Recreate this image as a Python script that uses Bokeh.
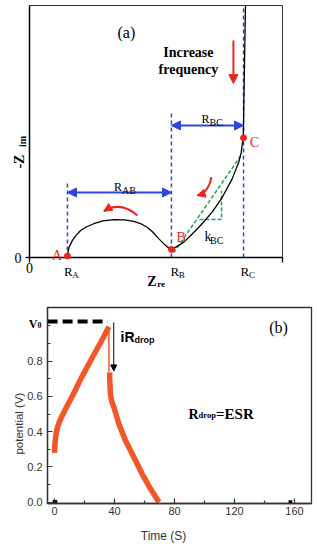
import math
from bokeh.plotting import figure
from bokeh.models import Arrow, NormalHead, FixedTicker, Range1d, PrintfTickFormatter
from bokeh.core.properties import value
from bokeh.embed import file_html
from bokeh.resources import INLINE

# ---------------- Panel (a): Nyquist schematic ----------------
R_A, R_B, R_C = 1.50, 5.61, 8.46
arc_re = [1.49, 1.56, 1.69, 1.84, 2.02, 2.26, 2.54, 2.90, 3.33, 3.75, 4.12, 4.42, 4.65, 4.86, 5.05, 5.25, 5.45, 5.61]
arc_im = [0.06, 0.40, 0.67, 0.88, 1.07, 1.22, 1.34, 1.45, 1.50, 1.49, 1.43, 1.33, 1.20, 1.02, 0.81, 0.60, 0.42, 0.32]
tail_re = [5.61, 5.80, 6.10, 6.42, 6.76, 7.22, 7.62, 8.01, 8.27, 8.37, 8.41, 8.45, 8.54]
tail_im = [0.32, 0.42, 0.61, 0.92, 1.27, 1.80, 2.39, 3.12, 3.78, 4.18, 4.51, 4.75, 10.2]
point_re = [R_A, R_B, R_C]
point_im = [0.06, 0.32, 4.75]
guide_re = [R_A, R_B, R_C]
guide_top = [3.06, 5.75, 10.2]
slope_re = [5.70, 8.41]
slope_im = [0.19, 4.12]
tri_re = [6.72, 7.59, 7.59]
tri_im = [1.51, 1.51, 2.65]
R_AB_level = 2.58
R_BC_level = 5.24
# curved red arrows: start, control, end
curve_x0 = [4.26, 7.19]
curve_y0 = [1.67, 3.19]
curve_cx = [3.60, 7.09]
curve_cy = [2.25, 2.59]
curve_x1 = [2.94, 6.63]
curve_y1 = [1.84, 2.46]
freq_arrow_x = 8.06
freq_arrow_y = [8.61, 6.90]

# ---------------- Panel (b): charge / discharge ----------------
charge_t = [0.0, 0.2, 0.6, 1.2, 2.0, 3.0, 4.5, 6.0, 8.0, 10.5, 13.5, 17.0, 21.0, 25.5, 30.0, 33.5, 36.2]
charge_v = [0.28, 0.32, 0.36, 0.395, 0.425, 0.45, 0.48, 0.505, 0.54, 0.58, 0.63, 0.69, 0.755, 0.825, 0.895, 0.95, 0.995]
discharge_t = [36.7, 36.9, 37.3, 38.2, 39.6, 42.9, 47.3, 52.9, 58.4, 64.0, 68.9, 69.8]
discharge_v = [0.737, 0.68, 0.615, 0.57, 0.539, 0.445, 0.35, 0.255, 0.161, 0.076, 0.01, 0.0]
drop_t = [36.3, 36.3]
drop_v = [0.99, 0.74]
v0_t = [-4.6, 35.5]
v0_v = [1.025, 1.025]
ir_arrow_t = 39.5
ir_arrow_v = [1.02, 0.745]
mark_t = [[-1.3, 1.8], [156.0, 158.5]]
mark_v = [[0.004, 0.004], [0.003, 0.003]]
y_ticks = [0.0, 0.2, 0.4, 0.6, 0.8]
y_minor = [0.1, 0.3, 0.5, 0.7, 0.9, 1.0]
x_ticks = [0, 40, 80, 120, 160]
x_minor = [20, 60, 100, 140]

RED = "#e8261f"
BLUE = "#2f45dc"
GREEN = "#1fa554"
ORANGE = "#f25727"
SERIF = "Liberation Serif"
SANS = "Liberation Sans"


def txt(fig, x, y, s, size, font=SERIF, style="normal", color="black",
        align="left", baseline="alphabetic", angle=0.0, xo=0):
    fig.text(x=[x], y=[y], text=[s], text_font=value(font),
             text_font_size=value(f"{size}px"), text_font_style=value(style),
             text_color=color, text_align=value(align),
             text_baseline=value(baseline), angle=angle, x_offset=xo,
             level="overlay")


# ---------- figure (a) ----------
p1 = figure(width=317, height=290, x_range=Range1d(0, 10), y_range=Range1d(0, 10),
            output_backend="svg", toolbar_location=None,
            min_border_left=29, min_border_right=35, min_border_top=5, min_border_bottom=33)
p1.grid.visible = False
p1.outline_line_color = "#333333"
p1.outline_line_width = 1
for ax in (p1.xaxis, p1.yaxis):
    ax.axis_line_color = "black"
    ax.axis_line_width = 1.5
    ax.major_tick_in = 0
    ax.major_tick_out = 5
    ax.major_tick_line_color = "black"
    ax.major_tick_line_width = 1.3
    ax.minor_tick_line_color = None
    ax.major_label_text_font = SERIF
    ax.major_label_text_font_size = "14px"
    ax.major_label_text_color = "black"
p1.xaxis.ticker = FixedTicker(ticks=[0, 10], minor_ticks=[])
p1.xaxis.major_label_overrides = {10: ""}
p1.xaxis.major_label_standoff = 0
p1.yaxis.ticker = FixedTicker(ticks=[0], minor_ticks=[])
p1.yaxis.major_tick_out = 4
p1.yaxis.major_label_standoff = 4

p1.segment(x0=guide_re, y0=[0, 0, 0], x1=guide_re, y1=guide_top,
           line_color=BLUE, line_width=1.5, line_dash="4 3")
p1.line(slope_re, slope_im, line_color=GREEN, line_width=1.5, line_dash="4 2")
p1.line(tri_re, tri_im, line_color=GREEN, line_width=1.5, line_dash="4 2")
p1.line(arc_re, arc_im, line_color="black", line_width=1.3)
p1.line(tail_re, tail_im, line_color="black", line_width=1.3)
p1.scatter(point_re, point_im, size=6, color=RED, level="overlay")
for lvl, xa, xb in ((R_AB_level, R_A, R_B), (R_BC_level, R_B, R_C)):
    p1.add_layout(Arrow(start=NormalHead(size=9, fill_color=BLUE, line_color=BLUE),
                        end=NormalHead(size=9, fill_color=BLUE, line_color=BLUE),
                        x_start=xa, y_start=lvl, x_end=xb, y_end=lvl,
                        line_color=BLUE, line_width=2))
p1.quadratic(x0=curve_x0, y0=curve_y0, x1=curve_x1, y1=curve_y1, cx=curve_cx, cy=curve_cy,
             line_color=RED, line_width=2)
for i in range(2):
    p1.add_layout(Arrow(end=NormalHead(size=8, fill_color=RED, line_color=RED),
                        x_start=curve_cx[i], y_start=curve_cy[i],
                        x_end=curve_x1[i], y_end=curve_y1[i],
                        line_alpha=0, line_width=0))
p1.add_layout(Arrow(end=NormalHead(size=9, fill_color=RED, line_color=RED),
                    x_start=freq_arrow_x, y_start=freq_arrow_y[0],
                    x_end=freq_arrow_x, y_end=freq_arrow_y[1],
                    line_color=RED, line_width=2))

txt(p1, 3.83, 8.93, "(a)", 16, align="center", baseline="middle")
txt(p1, 6.28, 8.13, "Increase", 14, style="bold", align="center", baseline="middle")
txt(p1, 6.28, 7.46, "frequency", 14, style="bold", align="center", baseline="middle")
txt(p1, 3.34, 2.79, "R", 12)
txt(p1, 3.34, 2.66, "AB", 10, xo=8)
txt(p1, 6.80, 5.50, "R", 12)
txt(p1, 6.80, 5.36, "BC", 10, xo=8)
txt(p1, 6.92, 0.83, "k", 14)
txt(p1, 6.92, 0.67, "BC", 10, xo=5.5)
txt(p1, 0.89, 0.08, "A", 14, color=RED)
txt(p1, 5.81, 0.81, "B", 14, color=RED)
txt(p1, 8.71, 4.58, "C", 14, color=RED)
for xr, sub in ((1.36, "A"), (5.57, "B"), (8.34, "C")):
    txt(p1, xr, -0.556, "R", 13)
    txt(p1, xr, -0.675, sub, 9, xo=8.4)
txt(p1, 4.65, -0.94, "Z", 14, style="bold")
txt(p1, 4.65, -1.04, "re", 9, style="bold", xo=10)
txt(p1, -0.40, 3.53, "-Z", 14, style="bold", angle=math.pi / 2)
txt(p1, -0.29, 4.38, "im", 10, style="bold", angle=math.pi / 2)

# ---------- figure (b) ----------
p2 = figure(width=317, height=260, x_range=Range1d(-4.67, 171.33), y_range=Range1d(-0.0074, 1.1047),
            output_backend="svg", toolbar_location=None,
            min_border_left=47, min_border_right=6, min_border_top=17, min_border_bottom=47)
p2.grid.visible = False
p2.outline_line_color = "#333333"
p2.outline_line_width = 1.3
for ax in (p2.xaxis, p2.yaxis):
    ax.axis_line_color = "#333333"
    ax.axis_line_width = 1.3
    ax.major_tick_in = 5
    ax.major_tick_out = 0
    ax.minor_tick_in = 3
    ax.minor_tick_out = 0
    ax.major_tick_line_color = "#333333"
    ax.minor_tick_line_color = "#333333"
    ax.major_tick_line_width = 1.2
    ax.minor_tick_line_width = 1.2
    ax.major_label_text_font = SANS
    ax.major_label_text_font_size = "11px"
    ax.major_label_text_color = "#333333"
p2.xaxis.ticker = FixedTicker(ticks=x_ticks, minor_ticks=x_minor)
p2.xaxis.major_label_standoff = 3
p2.yaxis.ticker = FixedTicker(ticks=y_ticks, minor_ticks=y_minor)
p2.yaxis.formatter = PrintfTickFormatter(format="%.1f")
p2.yaxis.major_label_standoff = 5

p2.line(v0_t, v0_v, line_color="black", line_width=4, line_dash="10 5")
for mt, mv in zip(mark_t, mark_v):
    p2.line(mt, mv, line_color="black", line_width=3)
p2.line(drop_t, drop_v, line_color=ORANGE, line_width=1.5)
p2.line(charge_t, charge_v, line_color=ORANGE, line_width=5.5)
p2.line(discharge_t, discharge_v, line_color=ORANGE, line_width=5.5)
p2.add_layout(Arrow(end=NormalHead(size=6, fill_color="black", line_color="black"),
                    x_start=ir_arrow_t, y_start=ir_arrow_v[0],
                    x_end=ir_arrow_t, y_end=ir_arrow_v[1],
                    line_color="black", line_width=1))

txt(p2, 149.3, 0.99, "(b)", 16, align="center", baseline="middle")
txt(p2, 44.0, 0.938, "iR", 14, font=SANS, style="bold")
txt(p2, 44.0, 0.92, "drop", 9, font=SANS, style="bold", xo=14)
txt(p2, 89.3, 0.50, "R", 14, style="bold")
txt(p2, 89.3, 0.492, "drop", 8.5, style="bold", xo=10.1)
txt(p2, 89.3, 0.50, "=ESR", 15, style="bold", xo=27.6)
txt(p2, -17.1, 1.012, "V", 12, style="bold")
txt(p2, -17.1, 1.003, "0", 8, style="bold", xo=8.7)
txt(p2, -24.0, 0.446, "potential (V)", 11.5, font=SANS, color="#333333",
    align="center", baseline="middle", angle=math.pi / 2)
txt(p2, 72.7, -0.19, "Time (S)", 12, font=SANS, color="#333333",
    align="center", baseline="middle")

open("out.html", "w").write(file_html([p1, p2], INLINE))
